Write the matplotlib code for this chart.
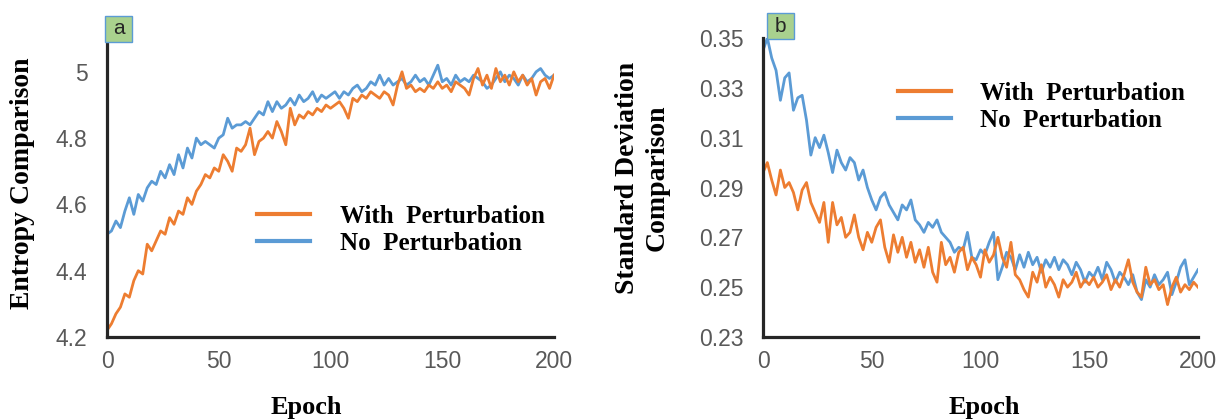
import numpy as np
import matplotlib
matplotlib.use("Agg")
import matplotlib.pyplot as plt
from matplotlib.patches import Rectangle

# epochs sampled every 2
epochs = np.arange(0, 201, 2)

# (a) entropy
entropy_no_pert = [
    4.51, 4.52, 4.55, 4.53, 4.58, 4.62, 4.57, 4.63, 4.61, 4.65, 4.67,
    4.66, 4.70, 4.68, 4.72, 4.69, 4.75, 4.71, 4.77, 4.74, 4.80,
    4.78, 4.79, 4.78, 4.77, 4.80, 4.81, 4.86, 4.83, 4.84, 4.84,
    4.85, 4.84, 4.86, 4.88, 4.87, 4.91, 4.88, 4.91, 4.89, 4.90,
    4.92, 4.90, 4.93, 4.91, 4.92, 4.94, 4.91, 4.93, 4.92, 4.93,
    4.94, 4.92, 4.94, 4.93, 4.95, 4.96, 4.94, 4.95, 4.97, 4.96,
    4.99, 4.96, 4.98, 4.96, 4.97, 4.98, 4.96, 4.97, 4.99, 4.97,
    4.98, 4.96, 4.99, 5.02, 4.97, 4.98, 4.96, 4.99, 4.97, 4.98,
    4.97, 4.99, 4.98, 4.97, 4.95, 4.96, 4.98, 5.00, 4.97, 4.99,
    4.98, 4.96, 4.99, 4.97, 4.98, 5.00, 5.01, 4.99, 4.98, 4.99,
]
entropy_with_pert = [
    4.22, 4.24, 4.27, 4.29, 4.33, 4.32, 4.37, 4.40, 4.39, 4.48, 4.46,
    4.49, 4.52, 4.51, 4.56, 4.54, 4.58, 4.57, 4.62, 4.60, 4.64,
    4.66, 4.69, 4.68, 4.71, 4.70, 4.75, 4.73, 4.70, 4.77, 4.76,
    4.78, 4.83, 4.75, 4.79, 4.80, 4.82, 4.80, 4.85, 4.82, 4.78,
    4.89, 4.84, 4.87, 4.86, 4.88, 4.87, 4.89, 4.88, 4.90, 4.89,
    4.90, 4.91, 4.89, 4.86, 4.92, 4.91, 4.93, 4.92, 4.94, 4.93,
    4.92, 4.94, 4.93, 4.90, 4.96, 5.00, 4.95, 4.96, 4.94, 4.95,
    4.94, 4.96, 4.95, 4.97, 4.95, 4.96, 4.94, 4.97, 4.96, 4.95,
    4.93, 4.98, 5.01, 4.96, 4.99, 4.95, 5.01, 4.97, 4.99, 4.96,
    5.00, 4.97, 4.99, 4.96, 4.98, 4.93, 4.97, 4.98, 4.95, 4.99,
]

# (b) standard deviation
std_no_pert = [
    0.345, 0.350, 0.342, 0.337, 0.325, 0.334, 0.336, 0.321, 0.326, 0.327, 0.317,
    0.303, 0.310, 0.306, 0.311, 0.304, 0.296, 0.305, 0.300, 0.297, 0.302,
    0.300, 0.293, 0.297, 0.290, 0.285, 0.281, 0.286, 0.288, 0.283, 0.280,
    0.277, 0.283, 0.281, 0.285, 0.277, 0.275, 0.272, 0.276, 0.274, 0.277,
    0.272, 0.270, 0.268, 0.264, 0.266, 0.265, 0.272, 0.262, 0.261, 0.265,
    0.263, 0.268, 0.272, 0.253, 0.258, 0.264, 0.262, 0.257, 0.263, 0.258,
    0.264, 0.259, 0.262, 0.256, 0.261, 0.258, 0.262, 0.257, 0.261, 0.259,
    0.255, 0.260, 0.257, 0.252, 0.256, 0.254, 0.258, 0.253, 0.260, 0.257,
    0.252, 0.256, 0.254, 0.251, 0.255, 0.248, 0.245, 0.253, 0.250, 0.255,
    0.251, 0.253, 0.256, 0.247, 0.252, 0.258, 0.261, 0.251, 0.254, 0.257,
]
std_with_pert = [
    0.296, 0.300, 0.293, 0.287, 0.297, 0.290, 0.292, 0.288, 0.281, 0.289, 0.292,
    0.284, 0.280, 0.276, 0.284, 0.268, 0.284, 0.275, 0.278, 0.270, 0.272,
    0.279, 0.270, 0.265, 0.272, 0.268, 0.274, 0.277, 0.266, 0.260, 0.271,
    0.264, 0.270, 0.262, 0.268, 0.260, 0.265, 0.258, 0.266, 0.256, 0.252,
    0.268, 0.259, 0.262, 0.256, 0.264, 0.266, 0.257, 0.262, 0.259, 0.254,
    0.265, 0.260, 0.263, 0.270, 0.262, 0.258, 0.268, 0.255, 0.253, 0.249,
    0.246, 0.256, 0.252, 0.259, 0.250, 0.254, 0.251, 0.246, 0.253, 0.250,
    0.252, 0.256, 0.250, 0.253, 0.251, 0.254, 0.250, 0.252, 0.255, 0.249,
    0.253, 0.250, 0.255, 0.261, 0.252, 0.248, 0.246, 0.258, 0.251, 0.253,
    0.249, 0.251, 0.243, 0.250, 0.254, 0.248, 0.251, 0.249, 0.252, 0.250,
]

x_ticks = [0, 50, 100, 150, 200]
entropy_ticks = [4.2, 4.4, 4.6, 4.8, 5.0]
entropy_tick_labels = ["4.2", "4.4", "4.6", "4.8", "5"]
std_ticks = [0.23, 0.25, 0.27, 0.29, 0.31, 0.33, 0.35]

ORANGE = "#ED7D31"
BLUE = "#5B9BD5"
SERIF = "Liberation Serif"
SANS = "Liberation Sans"

fig = plt.figure(figsize=(12.27, 4.19), dpi=100)
ax1 = fig.add_axes([107 / 1227, 1 - 337 / 419, 447 / 1227, 295 / 419])
ax2 = fig.add_axes([763 / 1227, 1 - 337 / 419, 435 / 1227, 299 / 419])


def style(ax):
    for s in ["top", "right"]:
        ax.spines[s].set_visible(False)
    for s in ["left", "bottom"]:
        ax.spines[s].set_linewidth(2.3)
        ax.spines[s].set_color("#262626")
    ax.tick_params(length=0, labelsize=16.5, labelcolor="#595959")
    ax.tick_params(axis="y", pad=14)
    ax.tick_params(axis="x", pad=9)
    for lab in ax.get_xticklabels() + ax.get_yticklabels():
        lab.set_fontfamily(SANS)


legend_kw = dict(bbox_transform=fig.transFigure, frameon=False, borderpad=0,
                 borderaxespad=0, handlelength=2.1, handletextpad=1.2,
                 labelspacing=0.15,
                 prop={"family": SERIF, "weight": "bold", "size": 18})

# panel a
lb, = ax1.plot(epochs, entropy_no_pert, color=BLUE, lw=2.0)
lo, = ax1.plot(epochs, entropy_with_pert, color=ORANGE, lw=2.0)
ax1.set_xlim(0, 200)
ax1.set_ylim(4.2, 5.09)
ax1.set_xticks(x_ticks)
ax1.set_yticks(entropy_ticks)
ax1.set_yticklabels(entropy_tick_labels)
style(ax1)
leg1 = ax1.legend([lo, lb], ["With  Perturbation", "No  Perturbation"],
                  loc="upper left", bbox_to_anchor=(257 / 1227, 1 - 205 / 419),
                  **legend_kw)
for h in leg1.legend_handles:
    h.set_linewidth(3)

# panel b
lb2, = ax2.plot(epochs, std_no_pert, color=BLUE, lw=2.0)
lo2, = ax2.plot(epochs, std_with_pert, color=ORANGE, lw=2.0)
ax2.set_xlim(0, 200)
ax2.set_ylim(0.23, 0.35)
ax2.set_xticks(x_ticks)
ax2.set_yticks(std_ticks)
ax2.set_yticklabels([f"{v:.2f}" for v in std_ticks])
style(ax2)
leg2 = ax2.legend([lo2, lb2], ["With  Perturbation", "No  Perturbation"],
                  loc="upper left", bbox_to_anchor=(898 / 1227, 1 - 82 / 419),
                  **legend_kw)
for h in leg2.legend_handles:
    h.set_linewidth(3)

# axis titles
fig.text(23 / 1227, 1 - 183 / 419, "Entropy Comparison", rotation=90,
         ha="center", va="center", family=SERIF, weight="bold", size=20)
fig.text(642 / 1227, 1 - 178 / 419, "Standard Deviation\nComparison", rotation=90,
         ha="center", va="center", family=SERIF, weight="bold", size=20,
         linespacing=1.25, multialignment="center")
fig.text(306 / 1227, 1 - 407 / 419, "Epoch", ha="center", va="center",
         family=SERIF, weight="bold", size=19)
fig.text(984 / 1227, 1 - 407 / 419, "Epoch", ha="center", va="center",
         family=SERIF, weight="bold", size=19)

# panel tags
for (x0, y0, tag) in [(105, 16, "a"), (767, 13, "b")]:
    fig.add_artist(Rectangle((x0 / 1227, 1 - (y0 + 26) / 419), 27 / 1227, 26 / 419,
                             transform=fig.transFigure, facecolor="#A9D18E",
                             edgecolor="#5B9BD5", lw=1))
    fig.text((x0 + 13.5) / 1227, 1 - (y0 + 13) / 419, tag, ha="center", va="center",
             family=SANS, size=15, color="#262626")

fig.savefig("out.png", dpi=100)
